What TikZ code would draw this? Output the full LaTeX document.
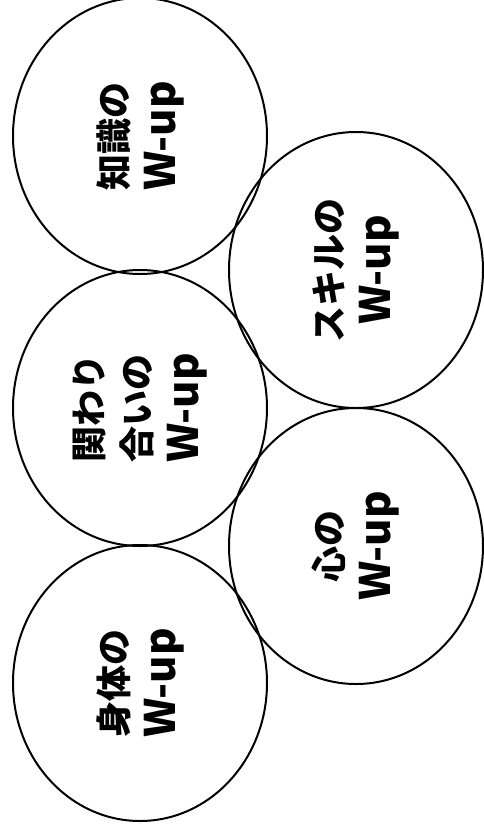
\documentclass[tikz,border=0pt]{standalone}
\usepackage{fontspec}
\newfontfamily\jpfont{Noto Sans CJK JP}
\usetikzlibrary{shapes.geometric}
\newcommand{\wup}{{\fontsize{42}{48}\selectfont W-up}}

\begin{document}
\begin{tikzpicture}[x=1pt, y=-1pt,
      blob/.style={draw=black, line width=2pt, ellipse, inner sep=0pt,
        minimum width=276pt, minimum height=254pt, rotate=90, align=center,
        font=\jpfont\bfseries\fontsize{36}{48}\selectfont}]
    \useasboundingbox (0,0) rectangle (484,839);
    \node[blob] (chishiki) at (140,136) {知識の\\\wup};
    \node[blob] (skill) at (356,270) {スキルの\\\wup};
    \node[blob] (kakawari) at (140,408) {関わり\\合いの\\\wup};
    \node[blob] (kokoro) at (356,546) {心の\\\wup};
    \node[blob] (shintai) at (140,683) {身体の\\\wup};
  \end{tikzpicture}
\end{document}
